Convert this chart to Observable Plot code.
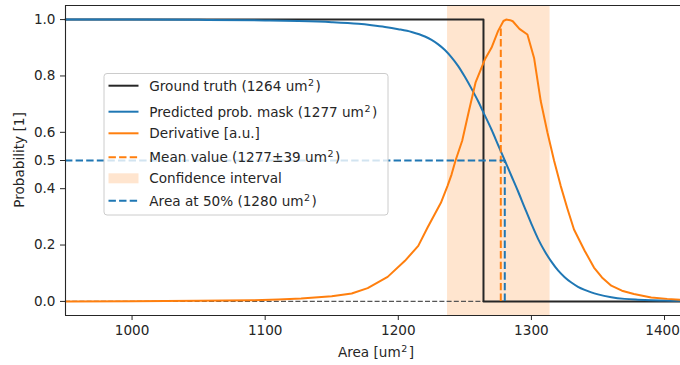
<!DOCTYPE html>
<html>
<head>
<meta charset="utf-8">
<script src="https://cdn.jsdelivr.net/npm/d3@7"></script>
<script src="https://cdn.jsdelivr.net/npm/@observablehq/plot@0.6"></script>
<style>
  html, body { margin: 0; padding: 0; background: #fff; }
  #chart { width: 680px; height: 365px; }
  svg { font-family: "DejaVu Sans", sans-serif; }
</style>
</head>
<body>
<div id="chart"></div>
<script>
// Predicted probability mask: area (um²) vs probability
const maskArea = [950, 1000, 1050, 1100, 1125, 1150, 1170, 1180, 1190, 1200, 1210, 1220, 1225, 1230, 1235, 1240, 1245, 1250, 1255, 1260, 1264, 1270, 1275, 1280, 1285, 1290, 1295, 1300, 1305, 1310, 1315, 1320, 1325, 1330, 1335, 1340, 1345, 1350, 1360, 1370, 1380, 1390, 1400, 1412];
const maskProb = [1.0, 1.0, 0.999, 0.997, 0.995, 0.991, 0.985, 0.98, 0.974, 0.966, 0.956, 0.94, 0.928, 0.912, 0.892, 0.866, 0.835, 0.797, 0.755, 0.71, 0.67, 0.61, 0.555, 0.5, 0.445, 0.39, 0.332, 0.275, 0.222, 0.178, 0.141, 0.11, 0.086, 0.067, 0.052, 0.041, 0.032, 0.025, 0.015, 0.009, 0.006, 0.004, 0.003, 0.002];

// Derivative of the mask curve (arbitrary units)
const derivArea = [950, 1000, 1050, 1090, 1110, 1127, 1150, 1165, 1177, 1192, 1205, 1215, 1222, 1232, 1237, 1240, 1243, 1248, 1253, 1258, 1265, 1270, 1275, 1279, 1281, 1284, 1286, 1291, 1297, 1302, 1307, 1312, 1317, 1322, 1327, 1332, 1340, 1347, 1353, 1360, 1368, 1377, 1390, 1402, 1412];
const derivValue = [0.0, 0.0005, 0.002, 0.004, 0.007, 0.01, 0.018, 0.028, 0.047, 0.087, 0.144, 0.197, 0.262, 0.35, 0.41, 0.45, 0.5, 0.57, 0.675, 0.776, 0.858, 0.9, 0.96, 0.995, 1.0, 0.998, 0.994, 0.967, 0.947, 0.864, 0.711, 0.6, 0.5, 0.41, 0.33, 0.255, 0.18, 0.12, 0.085, 0.056, 0.038, 0.026, 0.014, 0.009, 0.006];

// Summary values (um²)
const groundTruthArea = 1264;
const predictedArea = 1277;
const meanArea = 1277;
const meanStd = 39;
const area50 = 1280;
const confidenceLow = 1237;
const confidenceHigh = 1314;

// Axis setup
const xDomain = [950, 1412];
const yDomain = [-0.05, 1.05];
const xTicks = [1000, 1100, 1200, 1300, 1400];
const yTicks = [0.0, 0.2, 0.4, 0.5, 0.6, 0.8, 1.0];

const blue = "#1f77b4", orange = "#ff7f0e", dark = "#262626";
const fontSize = 13.6;

const mask = maskArea.map((a, i) => ({area: a, p: maskProb[i]}));
const deriv = derivArea.map((a, i) => ({area: a, d: derivValue[i]}));
const groundTruth = [
  {area: xDomain[0], p: 1}, {area: groundTruthArea, p: 1},
  {area: groundTruthArea, p: 0}, {area: xDomain[1], p: 0}
];
// derivative height at the mean value
const derivAtMean = d3.scaleLinear().domain(derivArea).range(derivValue)(meanArea);

// the last x tick label sits against the right edge, so it is nudged inward
const innerTicks = xTicks.slice(0, -1);
const edgeTick = xTicks.slice(-1);

const plot = Plot.plot({
  width: 680,
  height: 365,
  marginLeft: 65,
  marginRight: 0,
  marginTop: 5,
  marginBottom: 50,
  style: {fontFamily: "DejaVu Sans, sans-serif", background: "#fff"},
  x: {domain: xDomain},
  y: {domain: yDomain},
  marks: [
    Plot.rectX([{x1: confidenceLow, x2: confidenceHigh}], {x1: "x1", x2: "x2", y1: yDomain[0], y2: yDomain[1], fill: orange, fillOpacity: 0.2}),
    Plot.ruleY([0], {x1: xDomain[0], x2: groundTruthArea, stroke: "#555", strokeWidth: 1.4, strokeDasharray: "5,2.2"}),
    Plot.line(groundTruth, {x: "area", y: "p", stroke: dark, strokeWidth: 2, curve: "linear"}),
    Plot.line(mask, {x: "area", y: "p", stroke: blue, strokeWidth: 2, curve: "monotone-x"}),
    Plot.line(deriv, {x: "area", y: "d", stroke: orange, strokeWidth: 2}),
    Plot.ruleX([meanArea], {y1: 0, y2: derivAtMean, stroke: orange, strokeWidth: 2, strokeDasharray: "7.4,3.2"}),
    Plot.ruleY([0.5], {x1: xDomain[0], x2: area50, stroke: blue, strokeWidth: 2, strokeDasharray: "7.4,3.2"}),
    Plot.ruleX([area50], {y1: 0, y2: 0.5, stroke: blue, strokeWidth: 2, strokeDasharray: "7.4,3.2"}),
    // axes spines
    Plot.ruleX([xDomain[0]], {stroke: dark, strokeWidth: 1.1}),
    Plot.ruleY([yDomain[0]], {stroke: dark, strokeWidth: 1.1}),
    Plot.ruleY([yDomain[1]], {stroke: dark, strokeWidth: 1.1}),
    Plot.axisX(innerTicks, {tickSize: 5, tickPadding: 5, fontSize, color: dark, tickFormat: d3.format("d"), label: null}),
    // right-most tick: mark and label drawn separately so the label can shift left
    Plot.axisX(edgeTick, {tickSize: 5, color: dark, tickFormat: () => null, label: null}),
    Plot.axisX(edgeTick, {tickSize: 0, tickPadding: 10, dx: -2, fontSize, color: dark, tickFormat: d3.format("d"), label: null}),
    Plot.axisY(yTicks, {tickSize: 5, tickPadding: 5, fontSize, color: dark, tickFormat: d3.format(".1f"), label: null})
  ]
});

document.getElementById("chart").appendChild(plot);

const svg = d3.select(plot);

// helper: text with a superscript "2" after "um"
function addSuperText(g, x, y, before, after, size, anchor) {
  const t = g.append("text").attr("x", x).attr("y", y).attr("fill", dark)
    .attr("font-size", size).attr("text-anchor", anchor || "start");
  t.append("tspan").text(before);
  if (after !== null) {
    t.append("tspan").attr("dx", 0.5).attr("dy", -size * 0.38).attr("font-size", size * 0.7).text("2");
    t.append("tspan").attr("dx", 1.5).attr("dy", size * 0.38).text(after);
  }
  return t;
}

// axis titles
addSuperText(svg, 376, 357, "Area [um", "]", fontSize, "middle");
svg.append("text")
  .attr("transform", "translate(24,160) rotate(-90)")
  .attr("text-anchor", "middle").attr("font-size", fontSize).attr("fill", dark)
  .text("Probability [1]");

// legend
const legendItems = [
  {kind: "line", color: dark, dash: null, before: "Ground truth (" + groundTruthArea + " um", after: ")"},
  {kind: "line", color: blue, dash: null, before: "Predicted prob. mask (" + predictedArea + " um", after: ")"},
  {kind: "line", color: orange, dash: null, before: "Derivative [a.u.]", after: null},
  {kind: "line", color: orange, dash: "7.4,3.2", before: "Mean value (" + meanArea + "\u00b1" + meanStd + " um", after: ")"},
  {kind: "patch", color: orange, dash: null, before: "Confidence interval", after: null},
  {kind: "line", color: blue, dash: "7.4,3.2", before: "Area at 50% (" + area50 + " um", after: ")"}
];
const rowY = [85.7, 111.7, 133.3, 157.3, 178.3, 200.7];

const lg = svg.append("g");
lg.append("rect").attr("x", 104).attr("y", 73.5).attr("width", 284).attr("height", 141.5)
  .attr("rx", 3).attr("fill", "#fff").attr("fill-opacity", 0.8)
  .attr("stroke", "#cccccc").attr("stroke-width", 1);
legendItems.forEach((it, i) => {
  const y = rowY[i];
  if (it.kind === "line") {
    const l = lg.append("line").attr("x1", 108.5).attr("x2", 138.5).attr("y1", y).attr("y2", y)
      .attr("stroke", it.color).attr("stroke-width", 2);
    if (it.dash) l.attr("stroke-dasharray", it.dash);
  } else {
    lg.append("rect").attr("x", 108.5).attr("y", y - 5).attr("width", 30).attr("height", 10)
      .attr("fill", it.color).attr("fill-opacity", 0.2);
  }
  addSuperText(lg, 149.3, y + 5, it.before, it.after, fontSize, "start");
});
</script>
</body>
</html>
